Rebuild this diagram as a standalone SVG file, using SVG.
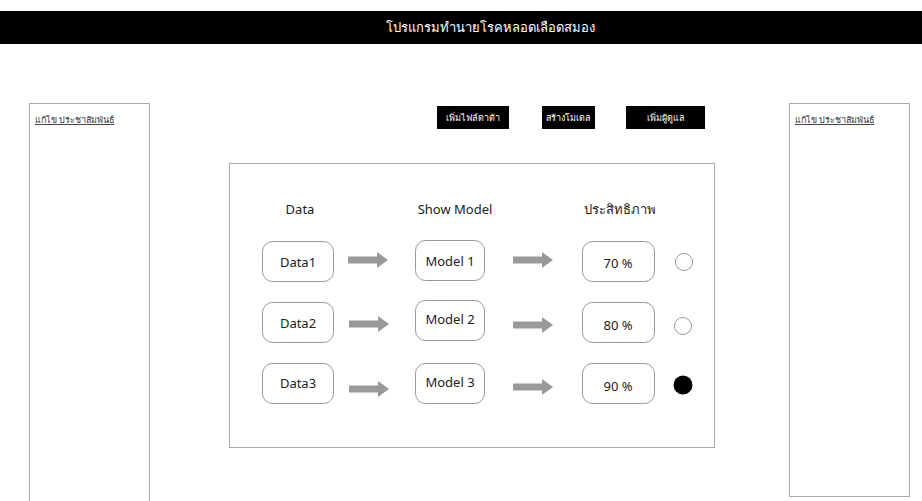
<svg xmlns="http://www.w3.org/2000/svg" width="922" height="501" viewBox="0 0 922 501">
<style>
text{font-family:"Noto Sans","Open Sans","DejaVu Sans",sans-serif;}
.panel{fill:#fff;stroke:#aaa;stroke-width:1;}
.btn{fill:#000;}
.btxt{fill:#fff;font-size:9px;text-anchor:middle;}
.box{fill:#fff;stroke:#999;stroke-width:1;}
.lbl{fill:#222;font-size:13px;text-anchor:middle;}
.hdr{fill:#222;font-size:13px;text-anchor:middle;}
.link{fill:#333;font-size:9px;text-decoration:underline;}
.arrow{fill:#999;}
</style>
<defs>
<path id="arr" d="M0,-3.5 H29 V-8 L40,0 L29,8 V3.5 H0 Z"/>
</defs>
<rect width="922" height="501" fill="#fff"/>
<g id="title">
<rect x="0" y="11" width="922" height="33" fill="#000"/>
<text x="490" y="32" fill="#fff" font-size="13" text-anchor="middle">โปรแกรมทำนายโรคหลอดเลือดสมอง</text>
</g>
<g id="leftPanel">
<rect class="panel" x="29.5" y="103.5" width="120" height="400"/>
<text class="link" x="35" y="123">แก้ไข ประชาสัมพันธ์</text>
</g>
<g id="rightPanel">
<rect class="panel" x="789.5" y="103.5" width="120" height="393"/>
<text class="link" x="795" y="123">แก้ไข ประชาสัมพันธ์</text>
</g>
<g id="btnAddData">
<rect class="btn" x="437" y="106" width="72" height="23"/>
<text class="btxt" x="473" y="121">เพิ่มไฟล์ดาต้า</text>
</g>
<g id="btnCreateModel">
<rect class="btn" x="542" y="106" width="53" height="23"/>
<text class="btxt" x="568.5" y="121">สร้างโมเดล</text>
</g>
<g id="btnAddAdmin">
<rect class="btn" x="626" y="106" width="79" height="23"/>
<text class="btxt" x="665.5" y="121">เพิ่มผู้ดูแล</text>
</g>
<g id="mainPanel">
<rect class="panel" x="229.5" y="163.5" width="485" height="284" stroke="#888"/>
<text class="hdr" x="300" y="214">Data</text>
<text class="hdr" x="455" y="214">Show Model</text>
<text class="hdr" x="620" y="214">ประสิทธิภาพ</text>
</g>
<g id="data1"><rect class="box" x="262.5" y="241.5" width="71" height="40" rx="10"/><text class="lbl" x="298" y="267">Data1</text></g>
<g id="data2"><rect class="box" x="262.5" y="302.5" width="71" height="40" rx="10"/><text class="lbl" x="298" y="328">Data2</text></g>
<g id="data3"><rect class="box" x="262.5" y="363.5" width="71" height="40" rx="10"/><text class="lbl" x="298" y="388">Data3</text></g>
<g id="model1"><rect class="box" x="415.5" y="240.5" width="69" height="40" rx="10"/><text class="lbl" x="450" y="266">Model 1</text></g>
<g id="model2"><rect class="box" x="415.5" y="300.5" width="69" height="40" rx="10"/><text class="lbl" x="450" y="324">Model 2</text></g>
<g id="model3"><rect class="box" x="415.5" y="363.5" width="69" height="40" rx="10"/><text class="lbl" x="450" y="387">Model 3</text></g>
<g id="perf1"><rect class="box" x="582.5" y="241.5" width="72" height="40" rx="10"/><text class="lbl" x="618" y="268">70 %</text></g>
<g id="perf2"><rect class="box" x="582.5" y="302.5" width="72" height="40" rx="10"/><text class="lbl" x="618" y="330">80 %</text></g>
<g id="perf3"><rect class="box" x="582.5" y="363.5" width="72" height="40" rx="10"/><text class="lbl" x="618" y="391">90 %</text></g>
<g id="radio1"><circle cx="684" cy="262" r="8.5" fill="#fff" stroke="#999"/></g>
<g id="radio2"><circle cx="683" cy="326" r="8.5" fill="#fff" stroke="#999"/></g>
<g id="radio3"><circle cx="683" cy="385" r="9.5" fill="#000"/></g>
<g id="connectors" class="arrow">
<use href="#arr" x="348" y="260"/>
<use href="#arr" x="349" y="324"/>
<use href="#arr" x="349" y="389"/>
<use href="#arr" x="513" y="260"/>
<use href="#arr" x="513" y="325"/>
<use href="#arr" x="513" y="387"/>
</g>
</svg>
